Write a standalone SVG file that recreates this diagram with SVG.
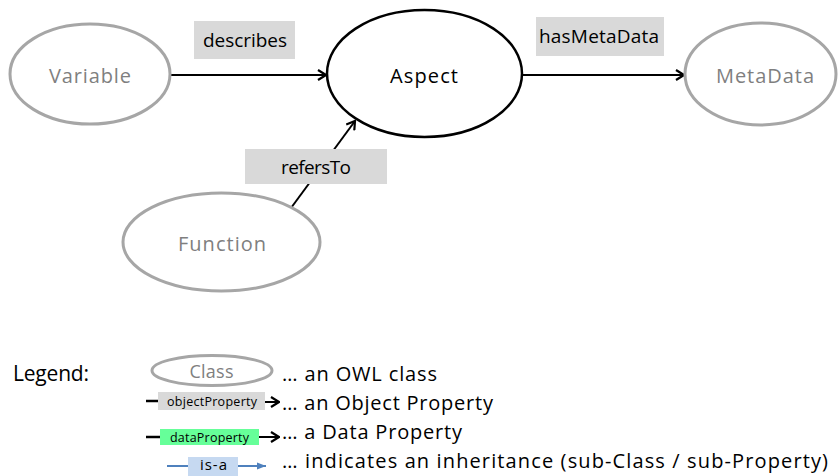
<svg xmlns="http://www.w3.org/2000/svg" width="838" height="476" viewBox="0 0 838 476">
<style>
text{font-family:"Open Sans","Liberation Sans",sans-serif;}
.cls{fill:#ffffff;stroke:#a6a6a6;stroke-width:3;}
.main{fill:#ffffff;stroke:#000000;stroke-width:2.5;}
.gt{fill:#7f7f7f;font-size:20px;text-anchor:middle;}
.bt{fill:#000000;font-size:20px;text-anchor:middle;}
.lbl{fill:#d9d9d9;}
.lt{fill:#000000;font-size:19px;text-anchor:middle;}
.edge{stroke:#000000;stroke-width:2;fill:none;marker-end:url(#arr);}
.leg{fill:#000000;font-size:20px;}
.small{fill:#000000;font-size:12.5px;}
</style>
<defs>
<marker id="arr" viewBox="0 0 10 12" refX="9" refY="6" markerWidth="10" markerHeight="12" markerUnits="userSpaceOnUse" orient="auto">
<path d="M1,1 L9,6 L1,11" fill="none" stroke="#000000" stroke-width="2.2"/>
</marker>
<marker id="arrb" viewBox="0 0 10 10" refX="10" refY="5" markerWidth="10" markerHeight="9" markerUnits="userSpaceOnUse" orient="auto">
<path d="M0,1 L10,5 L0,9 Z" fill="#4f81bd"/>
</marker>
</defs>
<rect width="838" height="476" fill="#ffffff"/>

<g id="connectors">
<line class="edge" x1="171" y1="75" x2="326" y2="75"/>
<line class="edge" x1="522" y1="75" x2="684" y2="75"/>
<line class="edge" x1="291" y1="208" x2="355" y2="121"/>
</g>

<g id="node-variable">
<ellipse class="cls" cx="90" cy="74" rx="80" ry="50"/>
<text class="gt" x="90" y="83" textLength="82">Variable</text>
</g>
<g id="node-aspect">
<ellipse class="main" cx="424.5" cy="73.5" rx="97.5" ry="63.5"/>
<text class="bt" x="424" y="83" textLength="68">Aspect</text>
</g>
<g id="node-metadata">
<ellipse class="cls" cx="760.5" cy="74" rx="75.5" ry="51"/>
<text class="gt" x="765" y="83" textLength="98">MetaData</text>
</g>
<g id="node-function">
<ellipse class="cls" cx="221.5" cy="242" rx="98.5" ry="49"/>
<text class="gt" x="222" y="251" textLength="88">Function</text>
</g>

<g id="edge-labels">
<g id="label-describes">
<rect class="lbl" x="194" y="21" width="101" height="38"/>
<text class="lt" x="245" y="47" textLength="84">describes</text>
</g>
<g id="label-hasMetaData">
<rect class="lbl" x="536" y="17" width="128" height="39"/>
<text class="lt" x="599" y="43" textLength="120">hasMetaData</text>
</g>
<g id="label-refersTo">
<rect class="lbl" x="245" y="149" width="142" height="35"/>
<text class="lt" x="316" y="174" textLength="70">refersTo</text>
</g>
</g>

<g id="legend">
<text x="13" y="381" font-size="21" fill="#000000" textLength="76">Legend:</text>
<ellipse class="cls" cx="212" cy="370.5" rx="60" ry="15"/>
<text x="211.5" y="378" font-size="18" fill="#7f7f7f" text-anchor="middle" textLength="44">Class</text>
<text class="leg" x="282" y="381" textLength="155">… an OWL class</text>

<line x1="146" y1="401" x2="158" y2="401" stroke="#000000" stroke-width="2.5"/>
<rect class="lbl" x="158" y="392" width="107" height="18"/>
<text class="small" x="167" y="406" textLength="90">objectProperty</text>
<line class="edge" x1="265" y1="402" x2="279" y2="402"/>
<text class="leg" x="282" y="410" textLength="211">… an Object Property</text>

<line x1="146" y1="437" x2="160" y2="437" stroke="#000000" stroke-width="2.5"/>
<rect x="160" y="429" width="99" height="16" fill="#66ff99"/>
<text class="small" x="170" y="442" textLength="79">dataProperty</text>
<line class="edge" x1="259" y1="437" x2="279" y2="437"/>
<text class="leg" x="282" y="439" textLength="180">… a Data Property</text>

<line x1="167" y1="466" x2="188" y2="466" stroke="#4f81bd" stroke-width="2"/>
<rect x="188" y="457" width="50" height="19" fill="#c6d9f1"/>
<text x="200" y="470" font-size="15" fill="#000000" textLength="27">is-a</text>
<line x1="238" y1="466" x2="266" y2="466" stroke="#4f81bd" stroke-width="2" marker-end="url(#arrb)"/>
<text class="leg" x="282" y="468" textLength="546">… indicates an inheritance (sub-Class / sub-Property)</text>
</g>
</svg>
